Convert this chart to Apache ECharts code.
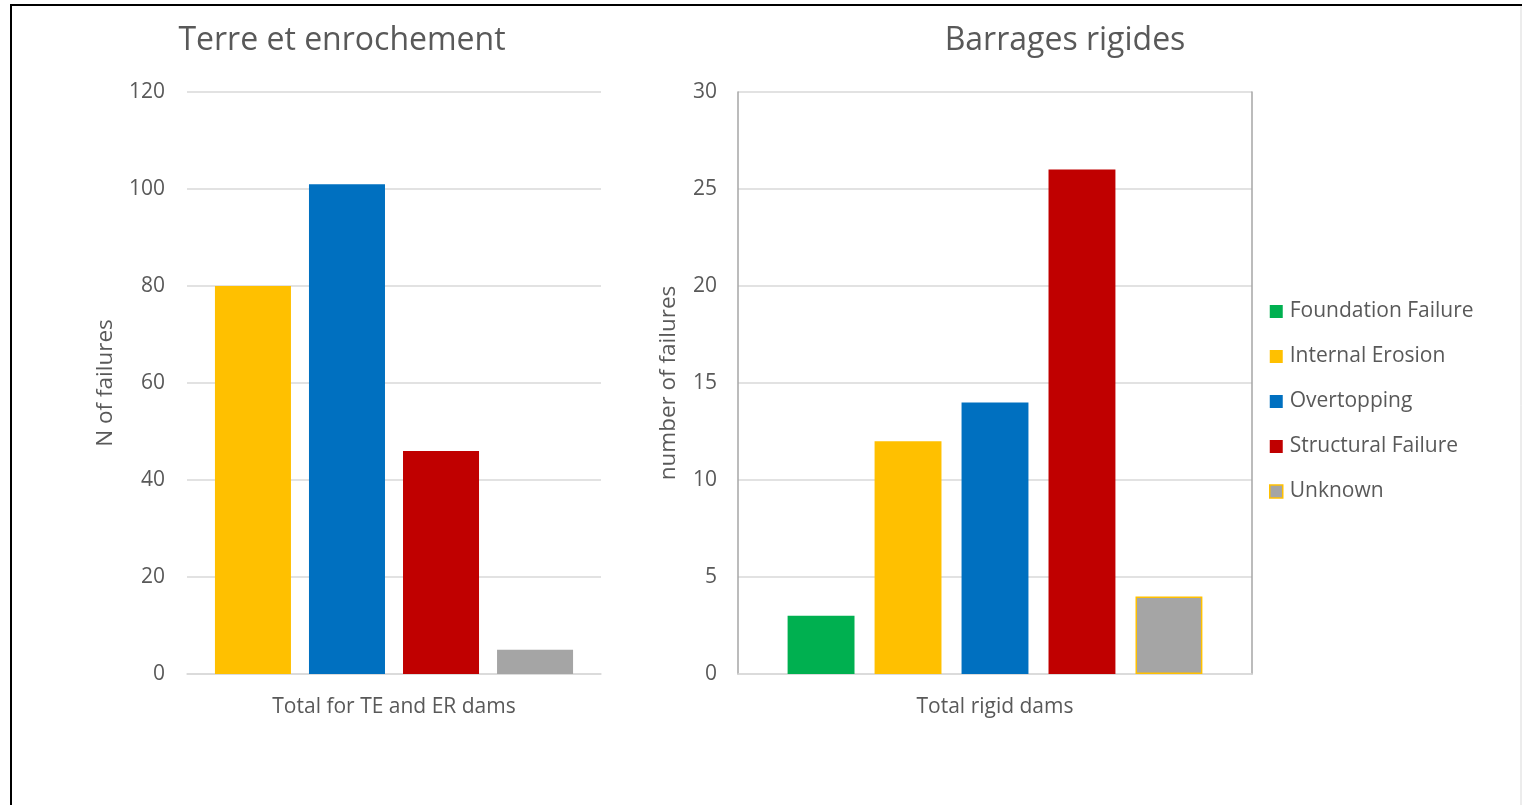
<!DOCTYPE html>
<html>
<head>
<meta charset="utf-8">
<title>Dam failures by cause</title>
<script src="https://cdn.jsdelivr.net/npm/echarts@6/dist/echarts.min.js"></script>
<style>
  html, body { margin: 0; padding: 0; background: #fff; }
  #chart { width: 1522px; height: 805px; }
</style>
</head>
<body>
<div id="chart"></div>
<script>
// Failure counts by cause, embankment dams (left) and rigid dams (right)
const causes = ['Foundation Failure', 'Internal Erosion', 'Overtopping', 'Structural Failure', 'Unknown'];
const causeColors = ['#00B050', '#FFC000', '#0070C0', '#C00000', '#A5A5A5'];

const embankmentCategory = ['Total for TE and ER dams'];
const embankmentCauses = ['Internal Erosion', 'Overtopping', 'Structural Failure', 'Unknown'];
const embankmentValues = [80, 101, 46, 5];

const rigidCategory = ['Total rigid dams'];
const rigidCauses = ['Foundation Failure', 'Internal Erosion', 'Overtopping', 'Structural Failure', 'Unknown'];
const rigidValues = [3, 12, 14, 26, 4];

const FONT = '"Open Sans", "Noto Sans", sans-serif';
const TEXT = '#595959';
const GRID = '#d9d9d9';

function colorOf(name) { return causeColors[causes.indexOf(name)]; }

const series = [];
embankmentCauses.forEach((name, i) => {
  series.push({
    name, type: 'bar', xAxisIndex: 0, yAxisIndex: 0,
    data: [embankmentValues[i]],
    barGap: '23.7%', barCategoryGap: '13.5%',
    itemStyle: { color: colorOf(name) },
    emphasis: { disabled: true }
  });
});
rigidCauses.forEach((name, i) => {
  const style = { color: colorOf(name) };
  if (name === 'Unknown') { style.borderColor = '#FFC000'; style.borderWidth = 1.5; }
  series.push({
    name, type: 'bar', xAxisIndex: 1, yAxisIndex: 1,
    data: [rigidValues[i]],
    barGap: '30%', barCategoryGap: '19.3%',
    itemStyle: style,
    emphasis: { disabled: true }
  });
});

const chart = echarts.init(document.getElementById('chart'), null, { renderer: 'canvas' });
chart.setOption({
  animation: false,
  backgroundColor: '#fff',
  textStyle: { fontFamily: FONT },
  title: [
    { text: 'Terre et enrochement', left: 342, top: 25, textAlign: 'center', padding: 0,
      textStyle: { fontFamily: FONT, fontSize: 32, fontWeight: 'normal', color: TEXT } },
    { text: 'Barrages rigides', left: 1065, top: 25, textAlign: 'center', padding: 0,
      textStyle: { fontFamily: FONT, fontSize: 32, fontWeight: 'normal', color: TEXT } }
  ],
  legend: {
    orient: 'vertical', left: 1269, top: 301, padding: 0,
    itemWidth: 13, itemHeight: 13, itemGap: 24,
    icon: 'rect',
    textStyle: { fontFamily: FONT, fontSize: 21, lineHeight: 21, color: TEXT, padding: [0, 0, 0, 2] },
    data: causes.map(n => n === 'Unknown'
      ? { name: n, itemStyle: { borderColor: '#FFC000', borderWidth: 1.5 } }
      : { name: n })
  },
  grid: [
    { left: 187, right: 921, top: 92, bottom: 131 },
    { left: 738, right: 270, top: 92, bottom: 131 }
  ],
  xAxis: [
    { type: 'category', gridIndex: 0, data: embankmentCategory,
      axisLine: { lineStyle: { color: GRID, width: 1.5 } }, axisTick: { show: false },
      axisLabel: { color: TEXT, fontSize: 21, fontFamily: FONT, margin: 23 } },
    { type: 'category', gridIndex: 1, data: rigidCategory,
      axisLine: { lineStyle: { color: GRID, width: 1.5 } }, axisTick: { show: false },
      axisLabel: { color: TEXT, fontSize: 21, fontFamily: FONT, margin: 23 } }
  ],
  yAxis: [
    { type: 'value', gridIndex: 0, min: 0, max: 120, interval: 20,
      name: 'N of failures', nameLocation: 'middle', nameGap: 70,
      nameTextStyle: { color: TEXT, fontSize: 22.5, fontFamily: FONT },
      axisLine: { show: false }, axisTick: { show: false },
      axisLabel: { color: TEXT, fontSize: 21, fontFamily: FONT, margin: 22 },
      splitLine: { lineStyle: { color: GRID, width: 1.5 } } },
    { type: 'value', gridIndex: 1, min: 0, max: 30, interval: 5,
      name: 'number of failures', nameLocation: 'middle', nameGap: 58,
      nameTextStyle: { color: TEXT, fontSize: 22.5, fontFamily: FONT },
      axisLine: { show: true, lineStyle: { color: '#a6a6a6', width: 1.5 } }, axisTick: { show: false },
      axisLabel: { color: TEXT, fontSize: 21, fontFamily: FONT, margin: 21 },
      splitLine: { lineStyle: { color: GRID, width: 1.5 } } },
    { type: 'value', gridIndex: 1, position: 'right', min: 0, max: 30, interval: 5,
      axisLine: { show: true, lineStyle: { color: '#a6a6a6', width: 1.5 } }, axisTick: { show: false },
      axisLabel: { show: false }, splitLine: { show: false } }
  ],
  graphic: [
    { type: 'line', shape: { x1: 10, y1: 5, x2: 1522, y2: 5 }, style: { stroke: '#000', lineWidth: 2 }, silent: true },
    { type: 'line', shape: { x1: 11, y1: 4, x2: 11, y2: 805 }, style: { stroke: '#000', lineWidth: 2 }, silent: true },
    { type: 'line', shape: { x1: 1521, y1: 6, x2: 1521, y2: 805 }, style: { stroke: '#d9d9d9', lineWidth: 1 }, silent: true }
  ],
  series
});
</script>
</body>
</html>
